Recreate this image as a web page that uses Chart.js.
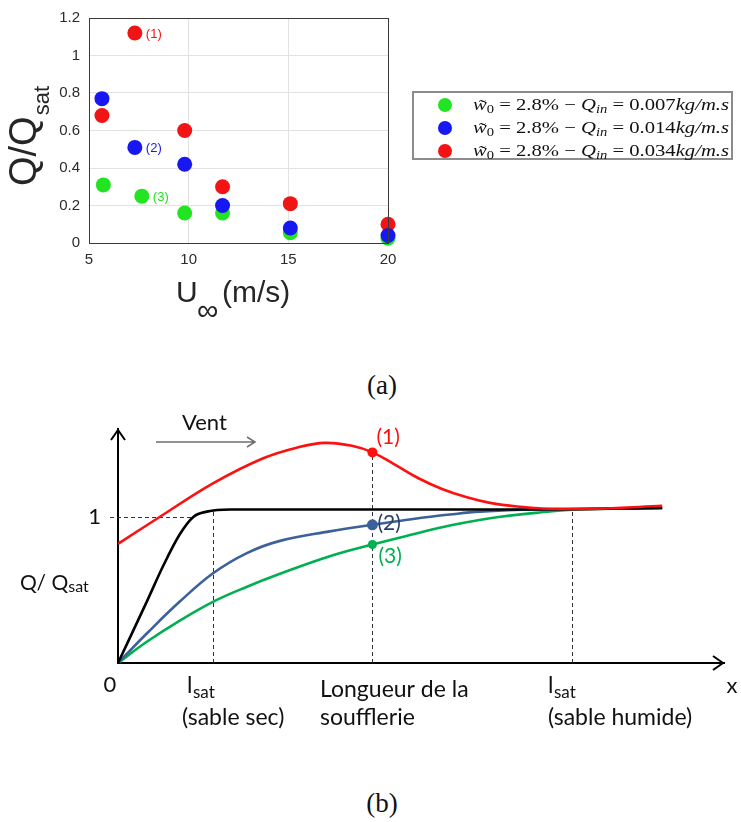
<!DOCTYPE html>
<html>
<head>
<meta charset="utf-8">
<title>Q/Qsat</title>
<script src="https://cdn.jsdelivr.net/npm/chart.js@4.4.1/dist/chart.umd.min.js"></script>
<style>
  body { margin: 0; background: #fff; }
  #page { position: relative; width: 741px; height: 822px; overflow: hidden; background: #fff; }
  canvas { position: absolute; left: 0; }
  .cap { position: absolute; width: 60px; text-align: center; font: 27px "Liberation Serif", serif; color: #111; line-height: 30px; }
</style>
</head>
<body>
<div id="page">
  <canvas id="chartA" width="741" height="330" style="top:0"></canvas>
  <div class="cap" style="left:352px; top:370px">(a)</div>
  <canvas id="chartB" width="741" height="360" style="top:400px"></canvas>
  <div class="cap" style="left:352px; top:788px">(b)</div>
</div>
<script>
// ---------- (a) measured points, Q/Qsat vs U (m/s) ----------
const uGreen = [5.72, 7.65, 9.8, 11.7, 15.1, 20];
const qGreen = [0.31, 0.25, 0.16, 0.16, 0.055, 0.025];
const uBlue = [5.65, 7.3, 9.8, 11.7, 15.1, 20];
const qBlue = [0.77, 0.51, 0.42, 0.2, 0.08, 0.04];
const uRed = [5.65, 7.3, 9.8, 11.7, 15.1, 20];
const qRed = [0.68, 1.12, 0.6, 0.3, 0.21, 0.1];
const qinLabels = ['0.007', '0.014', '0.034'];   // legend order: green, blue, red
const xTicksA = [5, 10, 15, 20];
const yTicksA = [0, 0.2, 0.4, 0.6, 0.8, 1, 1.2];

// ---------- (b) schematic curves, Q/Qsat vs x ----------
const xBlack = [0, 0.48, 0.76, 1.03, 1.26, 1.48, 1.87, 4, 7, 9.07];
const yBlack = [0, 0.42, 0.67, 0.88, 1.0, 1.035, 1.05, 1.05, 1.05, 1.06];
const xBlue = [0, 0.5, 1.03, 1.59, 2.14, 2.7, 3.53, 4.24, 4.92, 5.53, 6.03, 7, 9.07];
const yBlue = [0, 0.21, 0.42, 0.615, 0.75, 0.835, 0.9, 0.945, 0.985, 1.015, 1.035, 1.05, 1.06];
const xGreen = [0, 0.48, 1.03, 1.59, 2.14, 2.7, 3.53, 4.24, 4.92, 5.53, 6.37, 7.2, 7.57, 9.07];
const yGreen = [0, 0.145, 0.29, 0.42, 0.52, 0.61, 0.73, 0.81, 0.88, 0.94, 1.0, 1.036, 1.048, 1.06];
const xRed = [0, 0.7, 1.59, 2.42, 3.0, 3.45, 3.9, 4.24, 4.6, 5.0, 5.4, 5.8, 6.2, 6.65, 7.2, 8, 9.07];
const yRed = [0.815, 1.0, 1.23, 1.4, 1.475, 1.505, 1.485, 1.44, 1.36, 1.265, 1.19, 1.135, 1.095, 1.07, 1.055, 1.055, 1.075];
const xMark = [4.24, 4.24, 4.24];
const yMark = [1.44, 0.945, 0.81];
const markTags = ['(1)', '(2)', '(3)'];
const guideX = [1.58, 4.24, 7.57];     // l_sat (sable sec), longueur soufflerie, l_sat (sable humide)
const guideTop = [1.04, 1.44, 1.05];

const SANS = '"Liberation Sans", Arial, sans-serif';
const SERIF = '"Liberation Serif", "Times New Roman", serif';
const CAL = 'Lato, "Open Sans", sans-serif';

const cGreen = '#22e422', cBlue = '#1717f2', cRed = '#f21414';

// ================= chart (a) =================
const pts = (xs, ys) => xs.map((x, i) => ({ x: x, y: ys[i] }));

// the "(n)" tags next to the second point of each series
const tagPlugin = {
  id: 'tags',
  afterDatasetsDraw(chart) {
    const ctx = chart.ctx;
    ctx.save();
    ctx.font = '13px ' + SANS;
    ctx.textBaseline = 'middle';
    chart.data.datasets.forEach((ds, i) => {
      const el = chart.getDatasetMeta(i).data[1];
      ctx.fillStyle = ds.backgroundColor;
      ctx.fillText(ds.tag, el.x + 11, el.y + 1);
    });
    ctx.restore();
  }
};

function mathLine(ctx, x, y, parts, width) {
  const big = 17, small = 12;
  const fontOf = p => (p.i ? 'italic ' : '') + (p.sub ? small : big) + 'px ' + SERIF;
  let total = 0;
  parts.forEach(p => { ctx.font = fontOf(p); p.w = ctx.measureText(p.t).width; total += p.w; });
  ctx.save();
  ctx.translate(x, y);
  ctx.scale(width / total, 1);
  let cx = 0;
  parts.forEach(p => {
    ctx.font = fontOf(p);
    ctx.fillText(p.t, cx, p.sub ? 3 : 0);
    if (p.tilde) {
      ctx.textAlign = 'center';
      ctx.fillText('\u02DC', cx + p.w / 2 + 1, 1);
      ctx.textAlign = 'left';
    }
    cx += p.w;
  });
  ctx.restore();
}

const decorA = {
  id: 'decorA',
  afterDraw(chart) {
    const ctx = chart.ctx, a = chart.chartArea;
    ctx.save();
    // box
    ctx.strokeStyle = '#3a3a3a';
    ctx.lineWidth = 1;
    ctx.strokeRect(a.left + 0.5, a.top + 0.5, a.right - a.left, a.bottom - a.top);

    // y title  Q/Q_sat
    ctx.fillStyle = '#262626';
    ctx.save();
    ctx.translate(36, 186);
    ctx.rotate(-Math.PI / 2);
    ctx.font = '38px ' + SANS;
    ctx.fillText('Q/Q', 0, 0);
    const w = ctx.measureText('Q/Q').width;
    ctx.font = '22px ' + SANS;
    ctx.fillText('sat', w + 1, 13);
    ctx.restore();

    // x title  U_inf (m/s)
    ctx.font = '30px ' + SANS;
    ctx.fillText('U', 176, 302);
    ctx.font = '30px ' + SANS;
    ctx.fillText('\u221E', 197, 320);
    ctx.font = '30px ' + SANS;
    ctx.fillText('(m/s)', 222, 302);

    // legend box
    ctx.strokeStyle = '#8c8c8c';
    ctx.lineWidth = 2;
    ctx.strokeRect(413, 92, 319, 67);
    const cols = [cGreen, cBlue, cRed];
    qinLabels.forEach((q, i) => {
      const yy = 105 + i * 23;
      ctx.fillStyle = cols[i];
      ctx.beginPath();
      ctx.arc(445, yy, 7, 0, Math.PI * 2);
      ctx.fill();
      ctx.fillStyle = '#111';
      mathLine(ctx, 473, yy + 5, [
        { t: 'w', i: 1, tilde: 1 }, { t: '0', sub: 1 }, { t: ' = 2.8% \u2212 ' },
        { t: 'Q', i: 1 }, { t: 'in', i: 1, sub: 1 }, { t: ' = ' + q },
        { t: 'kg/m.s', i: 1 }
      ], 256);
    });
    ctx.restore();
  }
};

new Chart(document.getElementById('chartA'), {
  type: 'scatter',
  data: {
    datasets: [
      { data: pts(uBlue, qBlue), backgroundColor: cBlue, tag: '(2)', order: 1, clip: false },
      { data: pts(uRed, qRed), backgroundColor: cRed, tag: '(1)', order: 2, clip: false },
      { data: pts(uGreen, qGreen), backgroundColor: cGreen, tag: '(3)', order: 3, clip: false }
    ]
  },
  options: {
    responsive: false,
    animation: false,
    elements: { point: { radius: 7.5, borderWidth: 0, hoverRadius: 7.5 } },
    layout: { padding: { left: 0, top: 15, right: 353, bottom: 0 } },
    plugins: { legend: { display: false }, tooltip: { enabled: false } },
    scales: {
      x: {
        type: 'linear', min: 5, max: 20,
        afterBuildTicks: s => { s.ticks = xTicksA.map(v => ({ value: v })); },
        afterFit: s => { s.height = 87; },
        ticks: { font: { family: SANS, size: 15 }, color: '#2b2b2b', padding: 8 },
        grid: { color: '#e2e2e2', drawTicks: false },
        border: { color: '#3a3a3a' }
      },
      y: {
        min: 0, max: 1.2,
        afterBuildTicks: s => { s.ticks = yTicksA.map(v => ({ value: v })); },
        afterFit: s => { s.width = 89; },
        ticks: { font: { family: SANS, size: 15 }, color: '#2b2b2b', padding: 9, callback: v => String(v) },
        grid: { color: '#e2e2e2', drawTicks: false },
        border: { color: '#3a3a3a' }
      }
    }
  },
  plugins: [tagPlugin, decorA]
});

// ================= chart (b) =================
const curve = (xs, ys, color, mono) => ({
  data: pts(xs, ys), borderColor: color, borderWidth: 2.6, pointRadius: 0,
  cubicInterpolationMode: mono ? 'monotone' : 'default', tension: 0.4, fill: false
});

const decorB = {
  id: 'decorB',
  beforeDatasetsDraw(chart) {
    const ctx = chart.ctx, sx = chart.scales.x, sy = chart.scales.y;
    ctx.save();
    ctx.strokeStyle = '#333';
    ctx.lineWidth = 1;
    ctx.setLineDash([4, 3]);
    guideX.forEach((g, i) => {
      const px = Math.round(sx.getPixelForValue(g)) + 0.5;
      ctx.beginPath();
      ctx.moveTo(px, sy.getPixelForValue(0));
      ctx.lineTo(px, sy.getPixelForValue(guideTop[i]));
      ctx.stroke();
    });
    const y1 = Math.round(sy.getPixelForValue(1)) + 0.5;
    ctx.beginPath();
    ctx.moveTo(110, y1);
    ctx.lineTo(sx.getPixelForValue(1.26), y1);
    ctx.stroke();
    ctx.restore();
  },
  afterDraw(chart) {
    const ctx = chart.ctx, a = chart.chartArea, sx = chart.scales.x, sy = chart.scales.y;
    ctx.save();
    // arrow heads of the axes
    ctx.strokeStyle = '#000';
    ctx.lineWidth = 2;
    ctx.beginPath();
    ctx.moveTo(a.right - 11, a.bottom - 7); ctx.lineTo(a.right - 1, a.bottom); ctx.lineTo(a.right - 11, a.bottom + 7);
    ctx.moveTo(a.left - 7, a.top + 11); ctx.lineTo(a.left, a.top + 1); ctx.lineTo(a.left + 7, a.top + 11);
    ctx.stroke();

    // wind arrow
    ctx.strokeStyle = '#6e6e6e';
    ctx.lineWidth = 1.5;
    ctx.beginPath();
    ctx.moveTo(156, 42); ctx.lineTo(255, 42);
    ctx.moveTo(247, 37); ctx.lineTo(255, 42); ctx.lineTo(247, 47);
    ctx.stroke();

    ctx.fillStyle = '#111';
    ctx.font = '22px ' + CAL;
    ctx.fillText('Vent', 182, 30);

    // y labels
    ctx.font = '22px ' + CAL;
    ctx.textAlign = 'right';
    ctx.textBaseline = 'middle';
    ctx.fillText('1', 101, sy.getPixelForValue(1));
    ctx.textAlign = 'left';
    ctx.textBaseline = 'alphabetic';
    ctx.font = '21px ' + CAL;
    ctx.fillText('Q/ Q', 20, 190);
    let w = ctx.measureText('Q/ Q').width;
    ctx.font = '16px ' + CAL;
    ctx.fillText('sat', 20 + w, 192);

    // x labels
    ctx.font = '22px ' + CAL;
    ctx.textAlign = 'center';
    ctx.fillText('0', 110, 292);
    ctx.fillText('x', 732, 293);
    ctx.textAlign = 'left';
    [187, 548].forEach(lx => {
      ctx.font = '23px ' + CAL;
      ctx.fillText('l', lx, 293);
      ctx.font = '17px ' + CAL;
      ctx.fillText('sat', lx + 6, 298);
    });
    ctx.font = '23px ' + CAL;
    ctx.fillText('(sable sec)', 182, 325);
    ctx.fillText('Longueur de la', 320, 297);
    ctx.fillText('soufflerie', 320, 325);
    ctx.fillText('(sable humide)', 548, 325);

    // tags next to the marked points
    const tagCols = ['#ff1010', '#2a3f66', '#00b050'];
    const tagOff = [[4, -15], [5, -2], [6, 12]];
    ctx.font = '21px ' + CAL;
    ctx.textBaseline = 'middle';
    markTags.forEach((t, i) => {
      ctx.fillStyle = tagCols[i];
      ctx.fillText(t, sx.getPixelForValue(xMark[i]) + tagOff[i][0], sy.getPixelForValue(yMark[i]) + tagOff[i][1]);
    });
    ctx.restore();
  }
};

new Chart(document.getElementById('chartB'), {
  type: 'line',
  data: {
    datasets: [
      {
        data: pts(xMark, yMark), showLine: false,
        pointRadius: [5, 5.5, 4.5], pointBackgroundColor: ['#ff1010', '#3c609a', '#00b050'], pointBorderWidth: 0
      },
      curve(xRed, yRed, '#ff1010', false),
      curve(xBlack, yBlack, '#000000', true),
      curve(xBlue, yBlue, '#3c609a', false),
      curve(xGreen, yGreen, '#00b050', false)
    ]
  },
  options: {
    responsive: false,
    animation: false,
    layout: { padding: { left: 0, top: 29, right: 17, bottom: 0 } },
    plugins: { legend: { display: false }, tooltip: { enabled: false } },
    scales: {
      x: {
        type: 'linear', min: 0, max: 10.1,
        afterFit: s => { s.height = 97; },
        ticks: { display: false },
        grid: { display: false },
        border: { color: '#000', width: 2 }
      },
      y: {
        min: 0, max: 1.6,
        afterFit: s => { s.width = 118; },
        ticks: { display: false },
        grid: { display: false },
        border: { color: '#000', width: 2 }
      }
    }
  },
  plugins: [decorB]
});
</script>
</body>
</html>
